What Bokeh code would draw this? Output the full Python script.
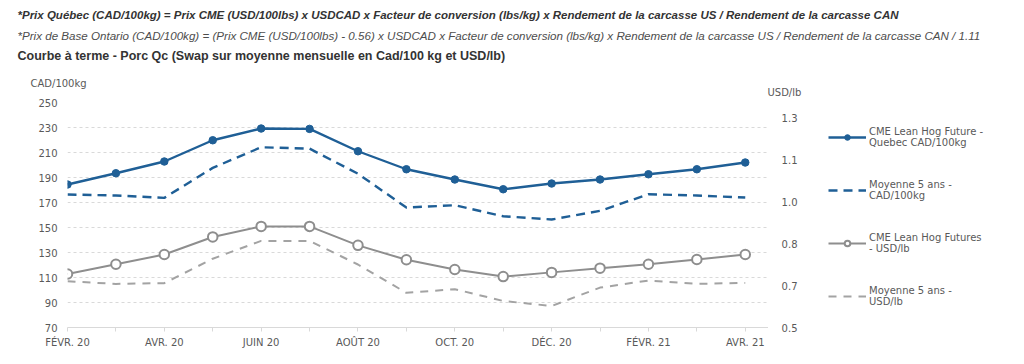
from bokeh.plotting import figure
from bokeh.layouts import row, column
from bokeh.models import (Range1d, FixedTicker, NumeralTickFormatter, Label,
                          Legend, LegendItem, ColumnDataSource)
from bokeh.embed import file_html
from bokeh.resources import INLINE

months = ["FÉVR. 20", "MARS 20", "AVR. 20", "MAI 20", "JUIN 20", "JUIL. 20", "AOÛT 20",
          "SEPT. 20", "OCT. 20", "NOV. 20", "DÉC. 20", "JANV. 21", "FÉVR. 21", "MARS 21", "AVR. 21"]
cme_qc_cad = [184.4, 193.4, 202.8, 219.8, 229.2, 228.9, 211.0, 196.6, 188.4, 180.6, 185.2, 188.4, 192.6, 196.6, 202.0]
avg5_cad = [176.4, 175.6, 173.7, 197.7, 214.2, 213.1, 193.0, 166.0, 167.8, 159.0, 156.4, 163.3, 176.6, 175.6, 174.0]
cme_usd = [0.704, 0.741, 0.778, 0.845, 0.885, 0.885, 0.813, 0.758, 0.721, 0.694, 0.710, 0.726, 0.741, 0.759, 0.778]
avg5_usd = [0.676, 0.666, 0.669, 0.762, 0.830, 0.830, 0.740, 0.632, 0.646, 0.601, 0.582, 0.652, 0.679, 0.666, 0.670]
left_ticks = [70, 90, 110, 130, 150, 170, 190, 210, 230, 250]
right_ticks = [0.5, 0.66, 0.82, 0.98, 1.14, 1.30]

legend_labels = ["CME Lean Hog Future -\nQuebec CAD/100kg",
                 "Moyenne 5 ans -\nCAD/100kg",
                 "CME Lean Hog Futures\n- USD/lb",
                 "Moyenne 5 ans -\nUSD/lb"]
header_texts = [
    "*Prix Québec (CAD/100kg) = Prix CME (USD/100lbs) x USDCAD x Facteur de conversion (lbs/kg) x Rendement de la carcasse US / Rendement de la carcasse CAN",
    "*Prix de Base Ontario (CAD/100kg) = (Prix CME (USD/100lbs) - 0.56) x USDCAD x Facteur de conversion (lbs/kg) x Rendement de la carcasse US / Rendement de la carcasse CAN / 1.11",
    "Courbe à terme - Porc Qc (Swap sur moyenne mensuelle en Cad/100 kg et USD/lb)",
]
header_styles = [("bold italic", "#333333", "11.5px"), ("italic", "#4d4d4d", "11.6px"), ("bold", "#333333", "12.5px")]
header_rows = [14, 35, 55]          # text rows, px from the top of the header band
unit_labels = ["CAD/100kg", "USD/lb"]
unit_pos = [(30, 83), (767, 91.5)]  # px positions of the axis unit captions in the header band

BLUE = "#1f5f96"
GRAY = "#8e8e8e"
GRAY_D = "#a3a3a3"
TXT = "#595959"
GRID = "#d9d9d9"
FONT = "DejaVu Sans"
HEADER_H = 98

x = list(range(len(months)))
src = ColumnDataSource(dict(x=x, qc=cme_qc_cad, a5c=avg5_cad, usd=cme_usd, a5u=avg5_usd))
usd_range = Range1d(0.5, 0.5 + 180 / 210)

# ---------- header band (titles + axis unit captions) ----------
h = figure(frame_width=1024, frame_height=HEADER_H, x_range=Range1d(0, 1024), y_range=Range1d(HEADER_H, 0),
           output_backend="svg", toolbar_location=None, x_axis_location=None, y_axis_location=None,
           min_border=0)
h.outline_line_color = None
h.xgrid.visible = False
h.ygrid.visible = False
for text, (style, color, size), yrow in zip(header_texts, header_styles, header_rows):
    h.add_layout(Label(x=17, y=yrow, text=text, text_font="Liberation Sans", text_font_size=size,
                       text_font_style=style, text_color=color, text_baseline="middle",
                       text_align="left"))
for text, (ux, uy) in zip(unit_labels, unit_pos):
    h.add_layout(Label(x=ux, y=uy, text=text, text_font=FONT, text_font_size="10px",
                       text_color=TXT, text_baseline="middle", text_align="left"))

# ---------- main chart ----------
p = figure(frame_width=701, frame_height=225, x_range=Range1d(0, 14.48), y_range=Range1d(70, 250),
           output_backend="svg", toolbar_location=None, min_border=0,
           min_border_left=67, min_border_right=0, min_border_top=4, min_border_bottom=37)
p.outline_line_color = None
p.extra_y_ranges = {"usd": usd_range}

la = p.yaxis[0]
la.ticker = FixedTicker(ticks=left_ticks)
la.axis_line_color = None
la.major_tick_line_color = None
la.major_tick_out = 0
la.major_tick_in = 0
la.minor_tick_line_color = None
la.major_label_standoff = 10
la.major_label_text_font = FONT
la.major_label_text_font_size = "10px"
la.major_label_text_color = TXT

xa = p.xaxis[0]
xa.ticker = FixedTicker(ticks=x)
xa.major_label_overrides = {i: (months[i] if i % 2 == 0 else "") for i in x}
xa.axis_line_color = GRID
xa.major_tick_line_color = GRID
xa.major_tick_in = 0
xa.major_tick_out = 4
xa.minor_tick_line_color = None
xa.major_label_standoff = 5
xa.major_label_text_font = FONT
xa.major_label_text_font_size = "10px"
xa.major_label_text_color = TXT

p.xgrid.visible = False
p.ygrid.ticker = FixedTicker(ticks=left_ticks)
p.ygrid.grid_line_color = GRID
p.ygrid.grid_line_dash = "3 3"

styles = [
    dict(kind="line", y="qc", rng="default", line_color=BLUE, line_width=2.4),
    dict(kind="dot", y="qc", rng="default", size=7.5, fill_color=BLUE, line_color=BLUE),
    dict(kind="line", y="a5c", rng="default", line_color=BLUE, line_width=2.4, line_dash="9 6"),
    dict(kind="line", y="usd", rng="usd", line_color=GRAY, line_width=2),
    dict(kind="dot", y="usd", rng="usd", size=9.5, fill_color="white", line_color=GRAY, line_width=2),
    dict(kind="line", y="a5u", rng="usd", line_color=GRAY_D, line_width=2, line_dash="8 7"),
]


def draw(fig, st, visible=True):
    kw = {k: v for k, v in st.items() if k not in ("kind", "y", "rng")}
    if fig is p:
        kw["y_range_name"] = st["rng"]
    if st["kind"] == "line":
        return fig.line("x", st["y"], source=src, visible=visible, **kw)
    return fig.scatter("x", st["y"], source=src, visible=visible, **kw)


for st in styles:
    draw(p, st)

# ---------- right band: USD/lb axis + legend ----------
q = figure(frame_width=220, frame_height=225, x_range=Range1d(0, 1), y_range=usd_range,
           output_backend="svg", toolbar_location=None, x_axis_location=None, min_border=0,
           min_border_left=36, min_border_right=0, min_border_top=4, min_border_bottom=37)
q.outline_line_color = None
q.xgrid.visible = False
q.ygrid.visible = False
ra = q.yaxis[0]
ra.ticker = FixedTicker(ticks=right_ticks)
ra.formatter = NumeralTickFormatter(format="0.0")
ra.axis_line_color = None
ra.major_tick_line_color = None
ra.major_tick_out = 0
ra.major_tick_in = 0
ra.minor_tick_line_color = None
ra.major_label_standoff = 7
ra.major_label_text_font = FONT
ra.major_label_text_font_size = "10px"
ra.major_label_text_color = TXT

g = [draw(q, st, visible=False) for st in styles]
legend = Legend(items=[LegendItem(label=legend_labels[0], renderers=[g[0], g[1]]),
                       LegendItem(label=legend_labels[1], renderers=[g[2]]),
                       LegendItem(label=legend_labels[2], renderers=[g[3], g[4]]),
                       LegendItem(label=legend_labels[3], renderers=[g[5]])],
                location="top_left", border_line_color=None, background_fill_alpha=0,
                inactive_fill_alpha=0,
                glyph_width=38, glyph_height=14, label_standoff=3, spacing=31, padding=0, margin=24,
                label_height=14, label_text_line_height=1.4,
                label_text_font=FONT, label_text_font_size="10px", label_text_color=TXT)
q.add_layout(legend, "center")

open("out.html", "w").write(file_html(column(h, row(p, q)), INLINE))
